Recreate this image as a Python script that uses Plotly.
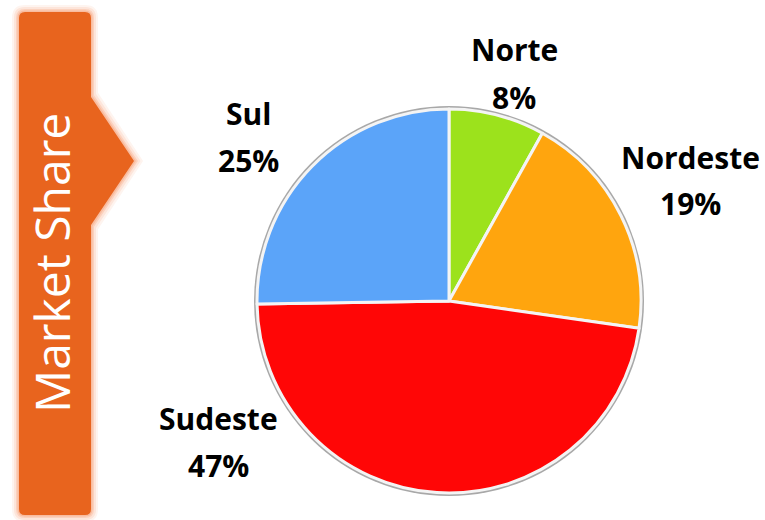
import plotly.graph_objects as go

regions = ["Norte", "Nordeste", "Sudeste", "Sul"]
shares = [8, 19, 47, 25]
colors = ["#9CE21C", "#FFA50E", "#FF0606", "#5BA4F9"]
title_text = "Market Share"

W, H = 765, 520

def px(x):
    return x / W

def py(y):
    return 1 - y / H

# pie geometry (pixels)
cx, cy, r = 449, 301, 192

fig = go.Figure()
fig.add_trace(go.Pie(
    labels=regions,
    values=shares,
    sort=False,
    direction="clockwise",
    rotation=0,
    marker=dict(colors=colors, line=dict(color="#F4F4F4", width=3)),
    textinfo="none",
    hoverinfo="label+value",
    showlegend=False,
    domain=dict(x=[px(cx - r), px(cx + r)], y=[py(cy + r), py(cy - r)]),
))

shapes = []
# grey rim behind pie
shapes.append(dict(type="circle", xref="paper", yref="paper",
                   x0=px(cx - r - 3), x1=px(cx + r + 3), y0=py(cy + r + 3), y1=py(cy - r - 3),
                   fillcolor="#A8A8A8", line=dict(width=0), layer="below"))

# banner with arrow
def banner_path(grow=0):
    g = grow
    x0, x1, tip = 19 - g, 91 + g, 134 + g * 1.3
    y0, y1 = 12 - g, 515 + g
    a0, a1, am = 97 - g * 0.6, 225 + g * 0.6, 161
    rr = 6 + g
    pts = [
        f"M {px(x0 + rr)},{py(y0)}",
        f"L {px(x1 - rr)},{py(y0)}",
        f"Q {px(x1)},{py(y0)} {px(x1)},{py(y0 + rr)}",
        f"L {px(x1)},{py(a0)}",
        f"L {px(tip)},{py(am)}",
        f"L {px(x1)},{py(a1)}",
        f"L {px(x1)},{py(y1 - rr)}",
        f"Q {px(x1)},{py(y1)} {px(x1 - rr)},{py(y1)}",
        f"L {px(x0 + rr)},{py(y1)}",
        f"Q {px(x0)},{py(y1)} {px(x0)},{py(y1 - rr)}",
        f"L {px(x0)},{py(y0 + rr)}",
        f"Q {px(x0)},{py(y0)} {px(x0 + rr)},{py(y0)}",
        "Z",
    ]
    return " ".join(pts)

for g, op in [(7, 0.12), (5, 0.18), (3, 0.3), (1.5, 0.45)]:
    shapes.append(dict(type="path", xref="paper", yref="paper", path=banner_path(g),
                       fillcolor="#F7A27A", opacity=op, line=dict(width=0), layer="below"))
shapes.append(dict(type="path", xref="paper", yref="paper", path=banner_path(0),
                   fillcolor="#E8641E", line=dict(width=0), layer="below"))

annotations = []
annotations.append(dict(x=px(51), y=py(263), xref="paper", yref="paper", text=title_text,
                        textangle=-90, showarrow=False,
                        font=dict(family="Open Sans", size=48, color="white"),
                        xanchor="center", yanchor="middle"))

label_pos = {"Norte": (514, 50), "Nordeste": (690, 157), "Sul": (248, 113), "Sudeste": (218, 418)}
for name, val in zip(regions, shares):
    x, y = label_pos[name]
    annotations.append(dict(x=px(x), y=py(y), xref="paper", yref="paper", text=f"<b>{name}</b>",
                            showarrow=False, font=dict(family="Open Sans", size=30, color="black"),
                            xanchor="center", yanchor="middle"))
    annotations.append(dict(x=px(x), y=py(y + 47), xref="paper", yref="paper", text=f"<b>{val}%</b>",
                            showarrow=False, font=dict(family="Open Sans", size=30, color="black"),
                            xanchor="center", yanchor="middle"))

fig.update_layout(
    width=W, height=H,
    margin=dict(l=0, r=0, t=0, b=0),
    paper_bgcolor="white", plot_bgcolor="white",
    shapes=shapes, annotations=annotations,
)

fig.write_html("out.html", config={"displayModeBar": False},
               post_script="document.body.style.margin='0px';")
